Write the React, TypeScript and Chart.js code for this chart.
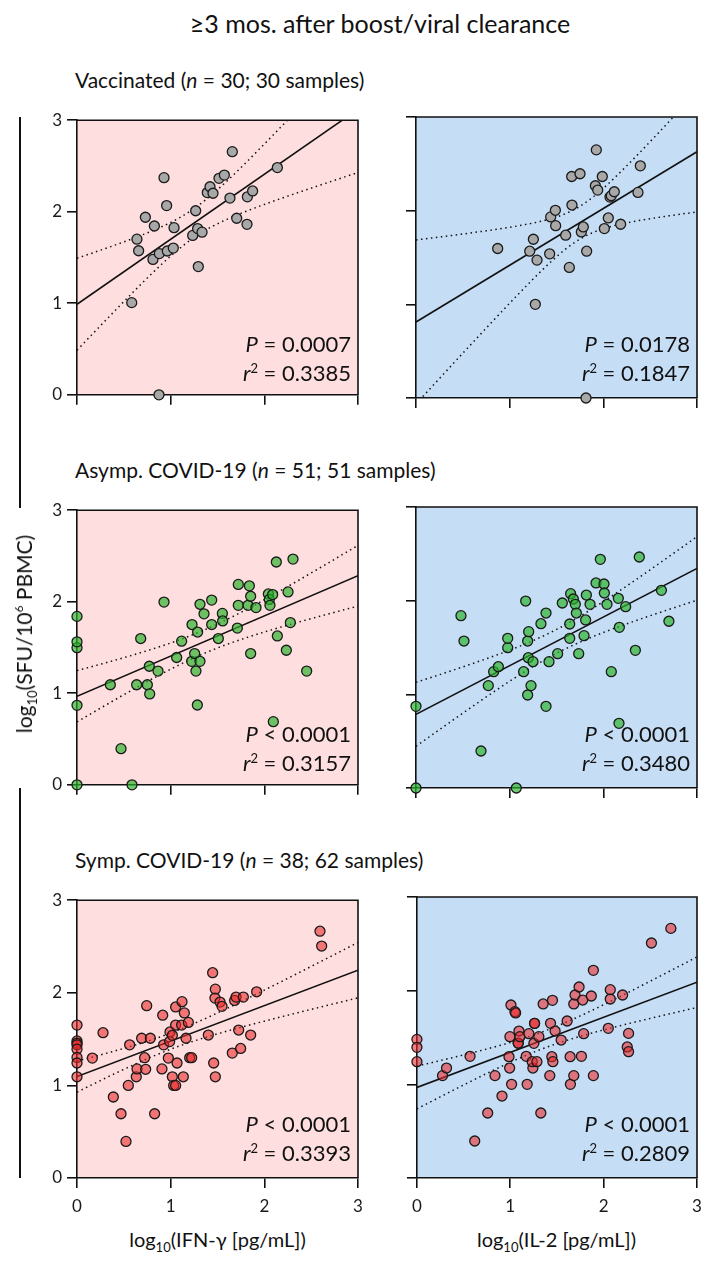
import React, { useEffect, useRef } from "react";
import { Chart, registerables } from "chart.js";
Chart.register(...registerables);

const FONT = "Lato, 'Open Sans', sans-serif";

// ---- Data (log10 values) ----
// Vaccinated – IFN-γ
const vaxIfnX = [0.584, 0.875, 0.64, 0.658, 0.73, 0.826, 0.811, 0.879, 0.929, 0.957, 0.964, 1.028, 1.036, 1.235, 1.267, 1.288, 1.295, 1.335, 1.391, 1.42, 1.452, 1.516, 1.573, 1.658, 1.633, 1.705, 1.819, 1.875, 1.815, 2.139];
const vaxIfnY = [1.007, 0.0, 1.70, 1.574, 1.94, 1.844, 1.479, 1.543, 2.372, 2.067, 1.571, 1.603, 1.826, 1.741, 2.011, 1.816, 1.401, 1.777, 2.209, 2.273, 2.202, 2.365, 2.40, 2.656, 2.149, 1.929, 2.163, 2.227, 1.862, 2.482];
// Vaccinated – IL-2
const vaxIl2X = [0.872, 1.214, 1.253, 1.292, 1.274, 1.427, 1.438, 1.488, 1.491, 1.598, 1.637, 1.662, 1.665, 1.751, 1.765, 1.786, 1.822, 1.815, 1.925, 1.915, 1.94, 1.989, 2.011, 2.053, 2.071, 2.085, 2.117, 2.185, 2.37, 2.395];
const vaxIl2Y = [1.596, 1.567, 1.695, 1.472, 1.0, 1.539, 1.933, 2.004, 1.84, 1.738, 1.394, 2.365, 2.06, 2.394, 1.773, 1.826, 1.567, 0.0, 2.649, 2.266, 2.22, 2.365, 1.809, 1.922, 2.145, 2.16, 2.202, 1.855, 2.195, 2.479];
// Asymptomatic – IFN-γ
const asyIfnX = [0, 0, 0, 0, 0, 0.356, 0.47, 0.587, 0.637, 0.68, 0.751, 0.772, 0.776, 0.865, 0.929, 1.064, 1.117, 1.228, 1.224, 1.256, 1.27, 1.288, 1.313, 1.285, 1.313, 1.356, 1.438, 1.438, 1.509, 1.552, 1.555, 1.712, 1.722, 1.722, 1.826, 1.84, 1.854, 1.854, 1.911, 2.043, 2.053, 2.06, 2.089, 2.128, 2.139, 2.096, 2.235, 2.253, 2.278, 2.306, 2.452];
const asyIfnY = [0, 0.868, 1.498, 1.562, 1.84, 1.093, 0.395, 0, 1.093, 1.598, 1.093, 1.295, 0.993, 1.242, 1.996, 1.391, 1.569, 1.751, 1.349, 1.434, 1.242, 1.669, 1.349, 0.872, 1.972, 1.868, 2.018, 1.751, 1.598, 1.872, 1.79, 1.712, 2.189, 1.961, 1.961, 2.174, 2.06, 1.434, 1.936, 2.085, 2.025, 1.961, 2.078, 2.434, 1.626, 0.69, 1.47, 2.107, 1.772, 2.466, 1.242];
// Asymptomatic – IL-2
const asyIl2X = [0, 0, 0.48, 0.512, 0.694, 0.772, 0.829, 0.879, 0.979, 0.979, 1.071, 1.149, 1.171, 1.192, 1.192, 1.203, 1.199, 1.228, 1.249, 1.334, 1.388, 1.388, 1.42, 1.512, 1.562, 1.641, 1.641, 1.651, 1.68, 1.701, 1.712, 1.737, 1.794, 1.811, 1.819, 1.858, 1.922, 1.968, 2.007, 2.011, 2.039, 2.085, 2.16, 2.167, 2.171, 2.238, 2.342, 2.384, 2.62, 2.70];
const asyIl2Y = [0, 0.872, 1.84, 1.569, 0.395, 1.093, 1.242, 1.295, 1.498, 1.598, 0, 1.242, 1.996, 0.993, 1.569, 1.669, 1.391, 1.093, 1.349, 1.754, 1.868, 0.872, 1.349, 1.434, 1.975, 1.751, 1.598, 2.075, 2.018, 1.961, 1.868, 1.434, 1.626, 1.794, 2.06, 1.961, 2.189, 2.441, 2.178, 2.082, 1.961, 1.242, 2.025, 0.69, 1.715, 1.936, 1.47, 2.466, 2.11, 1.78];
// Symptomatic – IFN-γ
const symIfnX = [0, 0, 0, 0, 0, 0, 0, 0, 0.164, 0.278, 0.388, 0.47, 0.523, 0.548, 0.562, 0.633, 0.641, 0.69, 0.722, 0.733, 0.744, 0.783, 0.829, 0.907, 0.915, 0.925, 0.975, 0.989, 0.993, 1.018, 1.018, 1.032, 1.053, 1.053, 1.053, 1.068, 1.121, 1.117, 1.135, 1.146, 1.164, 1.189, 1.203, 1.224, 1.402, 1.448, 1.459, 1.477, 1.473, 1.477, 1.527, 1.548, 1.658, 1.683, 1.698, 1.726, 1.747, 1.776, 1.854, 1.918, 2.594, 2.612];
const symIfnY = [1.651, 1.48, 1.455, 1.438, 1.391, 1.302, 1.242, 1.093, 1.295, 1.569, 0.875, 0.694, 0.395, 1.0, 1.438, 1.093, 1.178, 1.509, 1.299, 1.174, 1.861, 1.509, 0.694, 1.178, 1.758, 1.438, 1.295, 1.473, 1.577, 1.093, 1.541, 1.0, 1.0, 1.847, 1.651, 1.242, 1.904, 1.651, 1.093, 1.783, 1.509, 1.68, 1.299, 1.299, 1.544, 2.217, 1.242, 2.039, 1.943, 1.093, 1.9, 1.854, 1.349, 1.918, 1.954, 1.598, 1.399, 1.954, 1.544, 2.011, 2.665, 2.505];
// Symptomatic – IL-2
const symIl2X = [0, 0, 0, 0.274, 0.317, 0.569, 0.619, 0.758, 0.836, 0.911, 0.986, 0.993, 0.996, 1.007, 1.014, 1.05, 1.057, 1.085, 1.085, 1.093, 1.103, 1.171, 1.181, 1.199, 1.242, 1.253, 1.26, 1.26, 1.235, 1.285, 1.306, 1.327, 1.352, 1.423, 1.431, 1.445, 1.456, 1.452, 1.48, 1.545, 1.609, 1.641, 1.644, 1.68, 1.68, 1.694, 1.737, 1.762, 1.776, 1.786, 1.868, 1.89, 1.89, 2.05, 2.071, 2.071, 2.203, 2.267, 2.253, 2.267, 2.512, 2.72];
const symIl2Y = [1.48, 1.395, 1.242, 1.093, 1.174, 1.299, 0.395, 0.694, 1.093, 0.875, 1.295, 1.174, 1.509, 1.847, 1.0, 1.776, 1.762, 1.438, 1.44, 1.569, 1.509, 1.299, 1.0, 1.541, 1.174, 1.438, 1.651, 1.65, 1.242, 1.242, 1.509, 0.694, 1.858, 1.093, 1.651, 1.295, 1.242, 1.897, 1.569, 1.473, 1.676, 1.295, 1.0, 1.093, 1.858, 1.954, 2.039, 1.299, 1.9, 1.541, 1.943, 2.217, 1.093, 1.598, 1.911, 2.011, 1.954, 1.544, 1.399, 1.349, 2.509, 2.665];

const axisTicks = [0, 1, 2, 3];
const pValues = ["= 0.0007", "= 0.0178", "< 0.0001", "< 0.0001", "< 0.0001", "< 0.0001"];
const r2Values = ["0.3385", "0.1847", "0.3157", "0.3480", "0.3393", "0.2809"];
const groupTitles = [
  ["Vaccinated (", "n", " = 30; 30 samples)"],
  ["Asymp. COVID-19 (", "n", " = 51; 51 samples)"],
  ["Symp. COVID-19 (", "n", " = 38; 62 samples)"],
];

// ---- Layout ----
const ROW_TOP = [117, 507, 897];
const COL_LEFT = [77, 416];
const PW = 281;
const PH = 281;
const BG = ["#FEDEDF", "#C6DDF6"];
const PT_FILL = ["#A8A8A8", "rgba(40,180,40,0.68)", "rgba(235,40,40,0.58)"];

function fit(xs: number[], ys: number[]) {
  const n = xs.length;
  const mx = xs.reduce((s, v) => s + v, 0) / n;
  const my = ys.reduce((s, v) => s + v, 0) / n;
  let sxx = 0, sxy = 0;
  for (let i = 0; i < n; i++) {
    sxx += (xs[i] - mx) ** 2;
    sxy += (xs[i] - mx) * (ys[i] - my);
  }
  const b = sxy / sxx;
  const a = my - b * mx;
  let sse = 0;
  for (let i = 0; i < n; i++) sse += (ys[i] - a - b * xs[i]) ** 2;
  const s = Math.sqrt(sse / (n - 2));
  const t = 1.96 + 2.4 / (n - 2);
  return { a, b, s, mx, sxx, n, t };
}

const framePlugin = {
  id: "frame",
  beforeDraw(chart: any, _a: any, opts: any) {
    const { ctx, chartArea: c } = chart;
    ctx.save();
    ctx.fillStyle = opts.bg;
    ctx.fillRect(c.left, c.top, c.right - c.left, c.bottom - c.top);
    ctx.restore();
  },
  afterDraw(chart: any) {
    const { ctx, chartArea: c } = chart;
    ctx.save();
    ctx.strokeStyle = "#111";
    ctx.lineWidth = 1.6;
    ctx.beginPath();
    ctx.moveTo(c.left, c.top);
    ctx.lineTo(c.right, c.top);
    ctx.lineTo(c.right, c.bottom);
    ctx.stroke();
    ctx.restore();
  },
};

function Panel({ xs, ys, row, col }: { xs: number[]; ys: number[]; row: number; col: number }) {
  const ref = useRef<HTMLCanvasElement>(null);
  const yW = col === 0 ? 50 : 12;
  const xH = row === 2 ? 44 : 12;
  const padTop = 12, padRight = 14;
  const W = yW + PW + padRight;
  const H = padTop + PH + xH;
  useEffect(() => {
    const f = fit(xs, ys);
    const grid: number[] = [];
    for (let i = 0; i <= 60; i++) grid.push(i * 0.05);
    const reg = [0, 3].map((x) => ({ x, y: f.a + f.b * x }));
    const band = (sgn: number) =>
      grid.map((x) => ({
        x,
        y: f.a + f.b * x + sgn * f.t * f.s * Math.sqrt(1 / f.n + (x - f.mx) ** 2 / f.sxx),
      }));
    const pts = xs.map((x, i) => ({ x, y: ys[i] }));
    const axisCommon = {
      min: 0,
      max: 3,
      border: { display: true, color: "#111", width: 1.6 },
      grid: { drawOnChartArea: false, drawTicks: true, tickLength: 10, color: "#111", lineWidth: 1.6 },
    };
    const chart = new Chart(ref.current!, {
      type: "scatter",
      data: {
        datasets: [
          {
            data: pts,
            backgroundColor: PT_FILL[row],
            borderColor: "#1a1a1a",
            borderWidth: 1.3,
            pointRadius: 5,
            clip: false as any,
          },
          {
            type: "line",
            data: reg,
            borderColor: "#111",
            borderWidth: 1.6,
            pointRadius: 0,
            showLine: true,
          } as any,
          {
            type: "line",
            data: band(1),
            borderColor: "#111",
            borderWidth: 1.5,
            borderDash: [1.5, 3.5],
            pointRadius: 0,
            showLine: true,
            tension: 0,
          } as any,
          {
            type: "line",
            data: band(-1),
            borderColor: "#111",
            borderWidth: 1.5,
            borderDash: [1.5, 3.5],
            pointRadius: 0,
            showLine: true,
            tension: 0,
          } as any,
        ],
      },
      options: {
        animation: false,
        responsive: false,
        maintainAspectRatio: false,
        events: [],
        layout: { padding: { top: padTop, right: padRight, left: 0, bottom: 0 } },
        plugins: { legend: { display: false }, tooltip: { enabled: false }, frame: { bg: BG[col] } } as any,
        scales: {
          x: {
            type: "linear",
            ...axisCommon,
            afterBuildTicks: (s: any) => { s.ticks = axisTicks.map((v) => ({ value: v })); },
            afterFit: (s: any) => { s.height = xH; },
            ticks: {
              display: row === 2,
              padding: 8,
              color: "#1a1a1a",
              font: { family: FONT, size: 17 },
            },
          },
          y: {
            type: "linear",
            ...axisCommon,
            afterBuildTicks: (s: any) => { s.ticks = axisTicks.map((v) => ({ value: v })); },
            afterFit: (s: any) => { s.width = yW; },
            ticks: {
              display: col === 0,
              padding: 5,
              color: "#1a1a1a",
              font: { family: FONT, size: 17 },
            },
          },
        },
      } as any,
      plugins: [framePlugin],
    });
    return () => chart.destroy();
  }, []);
  return (
    <canvas
      ref={ref}
      width={W}
      height={H}
      style={{ position: "absolute", left: COL_LEFT[col] - yW, top: ROW_TOP[row] - padTop, width: W, height: H }}
    />
  );
}

function Stats({ row, col }: { row: number; col: number }) {
  const i = row * 2 + col;
  const right = 710 - (COL_LEFT[col] + PW - 7);
  const bottom = ROW_TOP[row] + PH;
  const st: React.CSSProperties = {
    position: "absolute",
    right,
    fontSize: 22,
    lineHeight: "22px",
    whiteSpace: "nowrap",
    color: "#111",
    textAlign: "right",
  };
  return (
    <>
      <div style={{ ...st, top: bottom - 65 }}>
        <i>P</i> {pValues[i]}
      </div>
      <div style={{ ...st, top: bottom - 36 }}>
        <i>r</i>
        <sup style={{ fontSize: 13, verticalAlign: 0, position: "relative", top: -8 }}>2</sup> = {r2Values[i]}
      </div>
    </>
  );
}

const panels: [number[], number[]][] = [
  [vaxIfnX, vaxIfnY],
  [vaxIl2X, vaxIl2Y],
  [asyIfnX, asyIfnY],
  [asyIl2X, asyIl2Y],
  [symIfnX, symIfnY],
  [symIl2X, symIl2Y],
];

export default function App() {
  useEffect(() => {
    document.body.style.margin = "0";
  }, []);
  const sub: React.CSSProperties = { fontSize: 13, verticalAlign: 0, position: "relative", top: 5 };
  return (
    <div style={{ position: "relative", width: 710, height: 1262, fontFamily: FONT, color: "#111", background: "#fff", overflow: "hidden" }}>
      <div style={{ position: "absolute", top: 7, left: 0, width: 760, textAlign: "center", fontSize: 25, lineHeight: "32px" }}>
        ≥3 mos. after boost/viral clearance
      </div>
      {groupTitles.map((g, r) => (
        <div key={r} style={{ position: "absolute", left: 75, top: ROW_TOP[r] - 51, fontSize: 21, lineHeight: "28px", whiteSpace: "nowrap" }}>
          {g[0]}
          <i>{g[1]}</i>
          {g[2]}
        </div>
      ))}
      {panels.map((p, i) => (
        <Panel key={i} xs={p[0]} ys={p[1]} row={Math.floor(i / 2)} col={i % 2} />
      ))}
      {panels.map((_, i) => (
        <Stats key={i} row={Math.floor(i / 2)} col={i % 2} />
      ))}
      <div style={{ position: "absolute", left: 19, top: 117, width: 2, height: 391, background: "#111" }} />
      <div style={{ position: "absolute", left: 19, top: 788, width: 2, height: 390, background: "#111" }} />
      <div
        style={{
          position: "absolute",
          left: 26,
          top: 634,
          transform: "translate(-50%, -50%) rotate(-90deg)",
          fontSize: 21,
          whiteSpace: "nowrap",
          lineHeight: "26px",
        }}
      >
        log<span style={sub}>10</span>(SFU/10<sup style={{ fontSize: 12, verticalAlign: 0, position: "relative", top: -9 }}>6</sup> PBMC)
      </div>
      <div style={{ position: "absolute", left: COL_LEFT[0], width: PW, top: 1226, textAlign: "center", fontSize: 20, lineHeight: "26px", whiteSpace: "nowrap" }}>
        log<span style={sub}>10</span>(IFN-γ [pg/mL])
      </div>
      <div style={{ position: "absolute", left: COL_LEFT[1], width: PW, top: 1226, textAlign: "center", fontSize: 20, lineHeight: "26px", whiteSpace: "nowrap" }}>
        log<span style={sub}>10</span>(IL-2 [pg/mL])
      </div>
    </div>
  );
}
